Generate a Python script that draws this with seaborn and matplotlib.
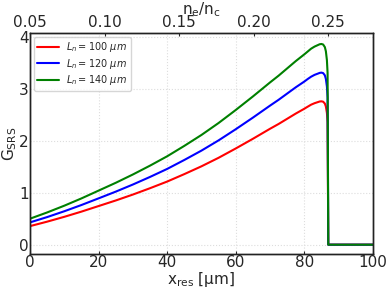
import matplotlib
matplotlib.use("Agg")
import matplotlib.pyplot as plt
import seaborn as sns
import pandas as pd

x_vals = [0, 5, 10, 15, 20, 25, 30, 35, 40, 45, 50, 55, 60, 65, 70, 72.5, 75, 77.5,
          80, 81, 82, 83, 84, 84.5, 85, 85.5, 86, 86.3, 86.6, 86.8, 87.0, 100]
g_100 = [0.357, 0.443, 0.536, 0.636, 0.743, 0.850, 0.964, 1.086, 1.214, 1.357, 1.507,
         1.671, 1.850, 2.036, 2.229, 2.321, 2.421, 2.521, 2.614, 2.654, 2.693, 2.721,
         2.743, 2.754, 2.757, 2.750, 2.714, 2.657, 2.536, 2.357, 0.0, 0.0]
g_120 = [0.429, 0.531, 0.643, 0.763, 0.891, 1.020, 1.157, 1.303, 1.457, 1.629, 1.809,
         2.006, 2.220, 2.443, 2.674, 2.786, 2.906, 3.026, 3.137, 3.186, 3.231, 3.266,
         3.291, 3.304, 3.309, 3.300, 3.257, 3.189, 3.043, 2.829, 0.0, 0.0]
g_140 = [0.50, 0.62, 0.75, 0.89, 1.04, 1.19, 1.35, 1.52, 1.70, 1.90, 2.11, 2.34, 2.59,
         2.85, 3.12, 3.25, 3.39, 3.53, 3.66, 3.715, 3.77, 3.81, 3.84, 3.855, 3.86, 3.85,
         3.80, 3.72, 3.55, 3.30, 0.0, 0.0]
labels = [r"$L_n = 100\ \mu m$", r"$L_n = 120\ \mu m$", r"$L_n = 140\ \mu m$"]
colors = ["red", "blue", "green"]
top_ticks = [0.05, 0.10, 0.15, 0.20, 0.25]
top_lim = (0.05, 0.2801)

rows = []
for lab, ys in zip(labels, [g_100, g_120, g_140]):
    for xv, yv in zip(x_vals, ys):
        rows.append({"x": xv, "G": yv, "L": lab})
df = pd.DataFrame(rows)

sns.set_style("white")
plt.rcParams["font.family"] = ["DejaVu Sans"]

fig = plt.figure(figsize=(3.9, 2.9), dpi=100)
ax = fig.add_axes([0.077, 0.124, 0.879, 0.762])
sns.lineplot(data=df, x="x", y="G", hue="L", palette=colors, hue_order=labels,
             sort=False, estimator=None, linewidth=1.5, ax=ax)

ax.set_xlim(0, 100)
ax.set_ylim(-0.18, 4.07)
ax.set_xticks([0, 20, 40, 60, 80, 100])
ax.set_yticks([0, 1, 2, 3, 4])
ax.grid(True, color="#dddddd", linestyle=":", linewidth=0.8)
ax.tick_params(axis="both", labelsize=11, direction="in", length=2, pad=1)
ax.set_xlabel(r"$\mathrm{x_{res}}$ [μm]", fontsize=11, labelpad=0)
ax.set_ylabel(r"$\mathrm{G_{SRS}}$", fontsize=11, labelpad=0)
for s in ax.spines.values():
    s.set_color("#222222")
    s.set_linewidth(1.0)

ax2 = ax.twiny()
ax2.set_xlim(*top_lim)
ax2.set_xticks(top_ticks)
ax2.set_xticklabels([f"{t:.2f}" for t in top_ticks])
ax2.tick_params(axis="x", labelsize=11, direction="in", length=2, pad=2)
ax2.set_xlabel(r"$\mathrm{n_e/n_c}$", fontsize=11, labelpad=1)
for s in ax2.spines.values():
    s.set_color("#222222")
    s.set_linewidth(1.0)

leg = ax.legend(loc="upper left", fontsize=7, frameon=True, fancybox=True,
                borderaxespad=0.4, handlelength=2.2, labelspacing=0.25,
                borderpad=0.35)
leg.get_frame().set_edgecolor("#cccccc")

fig.savefig("out.png", dpi=100)
